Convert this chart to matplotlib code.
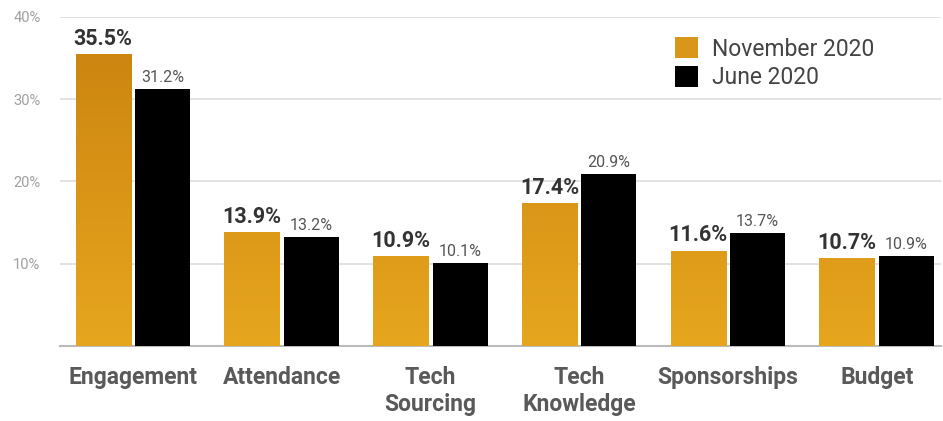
import matplotlib.pyplot as plt
import numpy as np
from matplotlib.colors import LinearSegmentedColormap

categories = ["Engagement", "Attendance", "Tech\nSourcing", "Tech\nKnowledge", "Sponsorships", "Budget"]
nov_2020 = [35.5, 13.9, 10.9, 17.4, 11.6, 10.7]
jun_2020 = [31.2, 13.2, 10.1, 20.9, 13.7, 10.9]

plt.rcParams['font.family'] = ['Roboto', 'DejaVu Sans']

GOLD = "#d8961a"
gold_cmap = LinearSegmentedColormap.from_list("gold", ["#e6a61e", "#d99417", "#c8820f"])

fig = plt.figure(figsize=(9.43, 4.21), dpi=100)
ax = fig.add_axes([0.0636, 0.178, 0.934, 0.782])

x = np.arange(len(categories))
w = 0.37
b1 = ax.bar(x - 0.2, nov_2020, w, color=GOLD, label="November 2020", zorder=3)
b2 = ax.bar(x + 0.2, jun_2020, w, color="black", label="June 2020", zorder=3)

# gold gradient fill, clipped to each bar
grad = np.linspace(0, 1, 256).reshape(-1, 1)
for rect in b1:
    x0, y0 = rect.get_x(), rect.get_y()
    im = ax.imshow(grad, cmap=gold_cmap, aspect="auto", origin="lower",
                   extent=[x0, x0 + rect.get_width(), 0, 40], zorder=3.5)
    im.set_clip_path(rect)

for rect, v in zip(b1, nov_2020):
    ax.text(rect.get_x() + rect.get_width() / 2, v + 0.5, f"{v}%", ha="center", va="bottom",
            fontsize=15.5, fontweight="bold", color="#333333")
for rect, v in zip(b2, jun_2020):
    ax.text(rect.get_x() + rect.get_width() / 2, v + 0.5, f"{v}%", ha="center", va="bottom",
            fontsize=11.5, color="#555555")

ax.set_xlim(-0.49, 5.43)
ax.set_ylim(0, 40)
ax.set_yticks([10, 20, 30, 40])
ax.set_yticklabels(["10%", "20%", "30%", "40%"], color="#a0a0a0", fontsize=10.5)
ax.yaxis.grid(True, color="#dddddd", linewidth=1.2, zorder=0)
ax.tick_params(axis="y", length=0, pad=14)
ax.tick_params(axis="x", length=0, pad=14)
ax.set_xticks(x)
ax.set_xticklabels(categories, fontsize=16.5, color="#595959",
                   fontweight="bold", linespacing=1.25, va="top")
for s in ["top", "right", "left"]:
    ax.spines[s].set_visible(False)
ax.spines["bottom"].set_color("#bbbbbb")
ax.spines["bottom"].set_linewidth(1.5)

ax.legend(loc="upper left", bbox_to_anchor=(0.675, 1.0), frameon=False, fontsize=16.5,
          handlelength=1.0, handleheight=1.0, handletextpad=0.6, labelspacing=0.25,
          labelcolor="#444444")

fig.savefig("out.png", dpi=100)
